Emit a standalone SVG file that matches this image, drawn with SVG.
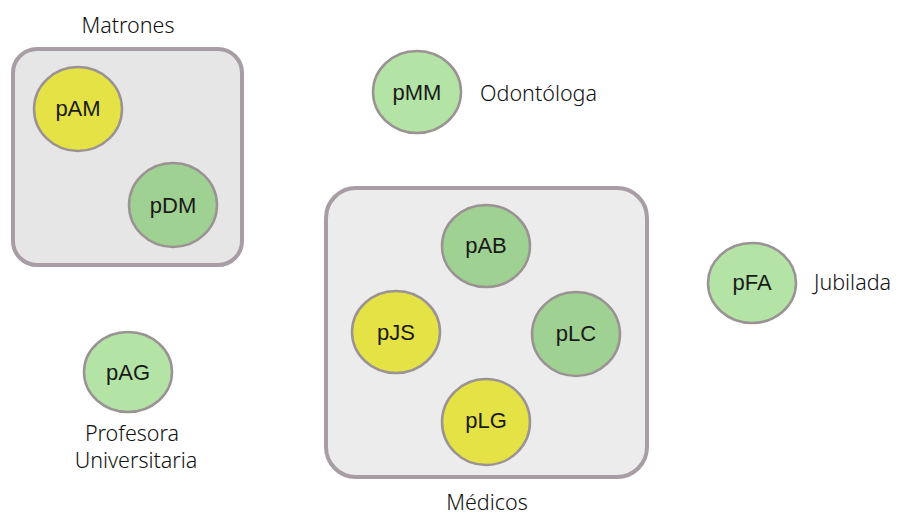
<svg xmlns="http://www.w3.org/2000/svg" width="911" height="516" viewBox="0 0 911 516">
<style>
.box{stroke:#a89ca5;stroke-width:4}
.n{stroke:#9b9294;stroke-width:2.5}
.lg{fill:#b4e3a6}
.mg{fill:#9fd192}
.ye{fill:#e4e244}
.t{font-family:"Liberation Sans",Arial,sans-serif;font-size:22px;fill:#1a1a1a;text-anchor:middle;dominant-baseline:central}
.l{font-family:"Noto Sans","Open Sans",sans-serif;font-size:21.5px;font-weight:300;fill:#111111;dominant-baseline:central}
</style>
<rect width="911" height="516" fill="#ffffff"/>
<g id="grp-matrones">
<rect class="box" x="13" y="49" width="229" height="216" rx="24" fill="#e6e6e7"/>
<text class="l" x="128" y="24" text-anchor="middle">Matrones</text>
</g>
<g id="grp-medicos">
<rect class="box" x="326" y="188" width="321" height="289" rx="30" fill="#ececec"/>
<text class="l" x="487" y="501" text-anchor="middle">Médicos</text>
</g>
<g id="connectors"></g>
<g id="pAM"><ellipse class="n ye" cx="78" cy="109" rx="44" ry="42"/><text class="t" x="78" y="108">pAM</text></g>
<g id="pDM"><ellipse class="n mg" cx="173" cy="205" rx="44" ry="42"/><text class="t" x="173" y="205">pDM</text></g>
<g id="pMM"><ellipse class="n lg" cx="417" cy="92" rx="44" ry="41"/><text class="t" x="417" y="92">pMM</text></g>
<text class="l" x="480" y="92">Odontóloga</text>
<g id="pAB"><ellipse class="n mg" cx="486" cy="246" rx="44" ry="41"/><text class="t" x="486" y="245">pAB</text></g>
<g id="pJS"><ellipse class="n ye" cx="396" cy="332" rx="44" ry="41"/><text class="t" x="396" y="332">pJS</text></g>
<g id="pLC"><ellipse class="n mg" cx="576" cy="334" rx="44" ry="42"/><text class="t" x="576" y="333">pLC</text></g>
<g id="pLG"><ellipse class="n ye" cx="486" cy="422" rx="44" ry="43"/><text class="t" x="486" y="420">pLG</text></g>
<g id="pFA"><ellipse class="n lg" cx="752" cy="283" rx="44" ry="40"/><text class="t" x="752" y="282">pFA</text></g>
<text class="l" x="814" y="281">Jubilada</text>
<g id="pAG"><ellipse class="n lg" cx="128" cy="372" rx="44" ry="40"/><text class="t" x="128" y="372">pAG</text></g>
<text class="l" x="132" y="432" text-anchor="middle">Profesora</text>
<text class="l" x="136" y="459" text-anchor="middle">Universitaria</text>
</svg>
